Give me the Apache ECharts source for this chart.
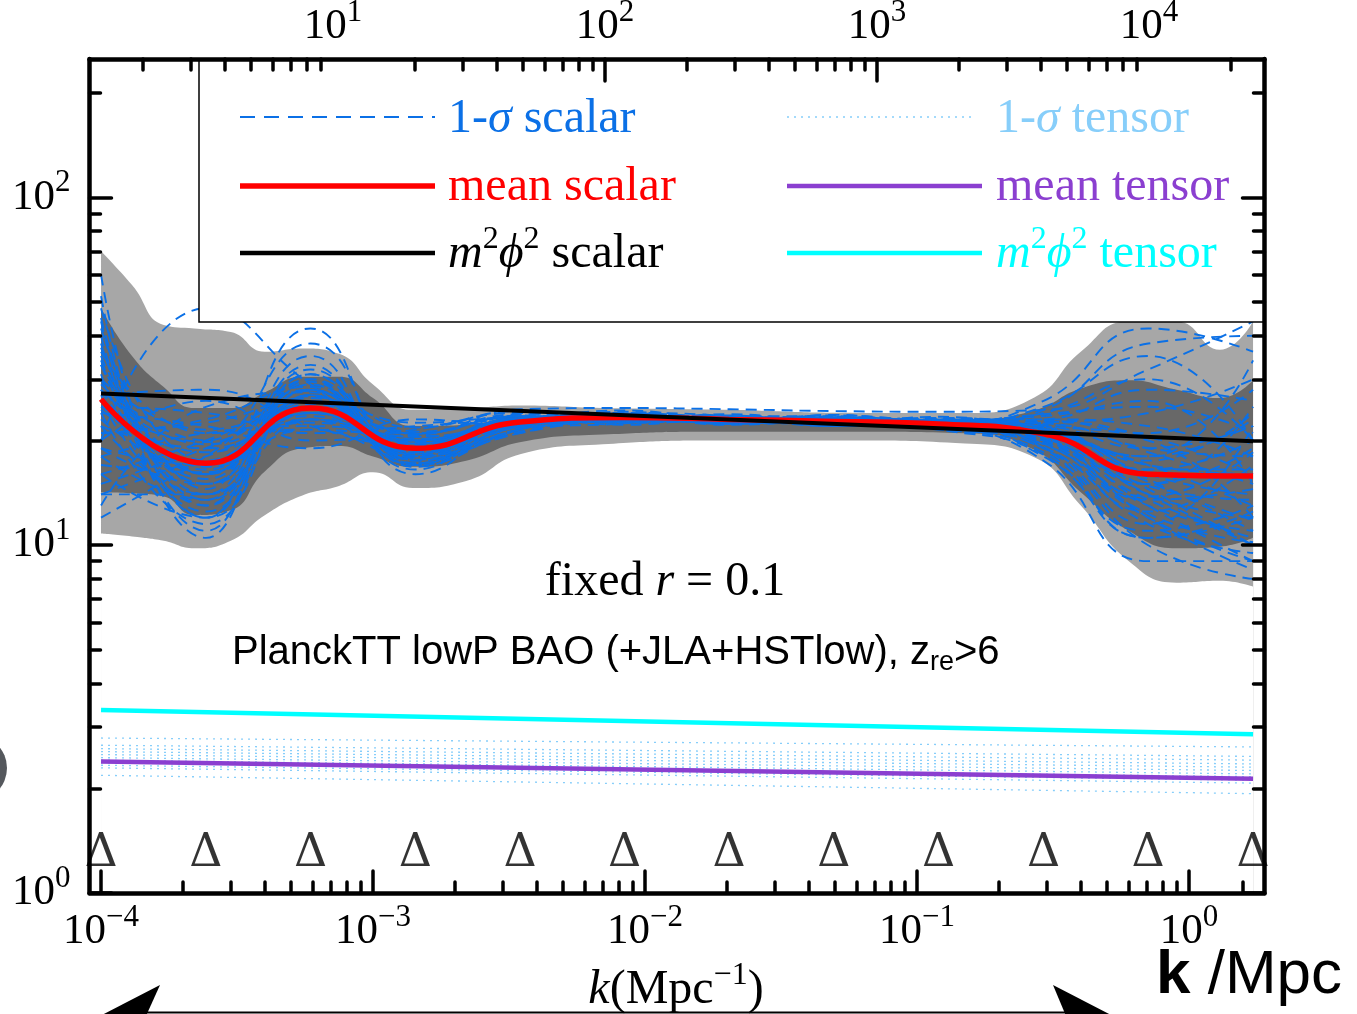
<!DOCTYPE html>
<html>
<head>
<meta charset="utf-8">
<script src="https://cdn.jsdelivr.net/npm/echarts@6/dist/echarts.min.js"></script>
<style>
html, body { margin: 0; padding: 0; background: #fff; }
#mychart { width: 1357px; height: 1014px; }
</style>
</head>
<body>
<div id="mychart"></div>
<script>
// knots of the spline reconstruction (the Delta marks)
var kKnots = [1.0e-4, 2.43e-4, 5.89e-4, 1.43e-3, 3.47e-3, 8.41e-3, 2.04e-2, 4.95e-2, 0.120, 0.292, 0.708, 1.72];
var knotMarkY = 1.29;

// mean scalar spectrum at the knots
var meanScalar = [26.3, 17.2, 24.8, 19.0, 22.6, 23.3, 23.0, 22.7, 22.3, 20.9, 16.0, 15.8];

// 1-sigma scalar samples, values at the knots
var scalarSamples = [
    [30, 15, 27, 18, 22, 23.5, 23, 22.5, 22, 21, 14, 12],
    [22, 19, 23, 20, 23, 23, 22.5, 23, 22.5, 22, 19, 22],
    [45, 13, 29, 17, 21.5, 24, 23.5, 22, 22, 19, 12, 9],
    [18, 21, 22, 21, 23.5, 22.5, 23, 23, 23, 23, 22, 18],
    [35, 16, 26, 19.5, 22, 23.8, 22.8, 22.8, 21.5, 20, 15, 25],
    [14, 14, 31, 17.5, 21, 23, 23.5, 22, 22.8, 18, 11, 13],
    [60, 12, 25, 20, 22.8, 22.6, 23.2, 23.4, 22, 24, 30, 20],
    [25, 24, 21, 22, 23, 23.6, 22.4, 22.6, 23.2, 21.5, 17, 16],
    [12, 18, 28, 16.5, 23.5, 22.8, 23, 22.3, 22.6, 19.5, 13, 11],
    [40, 11, 33, 18, 21, 24.2, 22.6, 23, 21.8, 22.5, 24, 30],
    [20, 26, 20, 21.5, 24, 22.5, 23.4, 22.2, 22.4, 20.5, 14.5, 10],
    [28, 16, 24, 19, 22.2, 23.2, 22.9, 23.6, 22.9, 23.5, 26, 15],
    [16, 20, 26, 18.5, 22.5, 23.5, 22.2, 22.8, 21.6, 18.5, 10, 8],
    [52, 10.5, 30, 17, 23, 22.8, 23.6, 22.4, 23.4, 21, 18, 34],
    [24, 22, 19, 23, 22, 23, 23, 23.2, 22.2, 25, 35, 20],
    [33, 14, 35, 16, 22.6, 24, 22.4, 22.9, 22.5, 20, 12.5, 17],
    [19, 17, 23, 20.5, 21.8, 22.4, 23.8, 22.6, 22.8, 22, 20, 12],
    [27, 28, 22, 19.5, 23.2, 23.6, 22.7, 23.1, 21.9, 19, 11.5, 22],
    [38, 13.5, 27, 17.8, 22.4, 22.9, 23.1, 22.1, 22.7, 23, 28, 26],
    [15, 19, 25, 21, 23.8, 23.3, 22.5, 23.3, 22.1, 17.5, 9, 9],
    [31, 12.5, 23, 18.5, 21.2, 23.9, 23.3, 22.7, 23.1, 21.8, 16, 14],
    [21, 23, 28.5, 20, 22.9, 22.7, 22.8, 22.5, 22.6, 20.8, 15, 19],
    [26, 15.5, 32, 16.8, 22.1, 23.4, 23.5, 23.5, 21.7, 24.5, 38, 40],
    [48, 17.5, 24, 19.2, 23.6, 22.6, 22.6, 22.3, 22.9, 19.8, 13.5, 10.5],
    [20, 48, 29, 19, 22.5, 23.2, 23, 22.8, 22.5, 21, 17, 13],
    [29, 20, 38, 17.2, 21.6, 23.7, 22.3, 23.7, 22.3, 22.8, 21, 28],
    [23, 16.5, 26.5, 22.5, 23.3, 22.2, 23.3, 22.4, 23, 20.2, 12, 8.5],
    [36, 21, 21.5, 18, 22, 24.4, 22.9, 22.9, 22.4, 26, 42, 36],
    [13, 25, 27.5, 21.8, 24.3, 23.1, 22.6, 23, 21.5, 18.2, 10.5, 12],
    [42, 14.5, 42, 17.5, 21.5, 23.3, 23.2, 22.6, 23.2, 21.5, 18, 23],
    [24.5, 18.5, 24.5, 19.8, 22.7, 23, 23.1, 23.1, 22.7, 21.2, 16.5, 16.5],
    [34, 15, 26, 20.8, 24.6, 24.8, 24.6, 24.3, 24.2, 24.5, 32, 44],
    [26, 13, 28, 18.2, 22.8, 23.1, 22.9, 22.6, 22.4, 21.4, 15.5, 11],
    [19, 15, 24, 20.2, 22.3, 22.9, 23.2, 22.9, 22.6, 20.6, 13.5, 14.5],
    [33, 17, 30, 17.6, 22, 23.5, 22.7, 23.2, 22.2, 22.2, 19, 18],
    [16, 12, 27, 19.6, 23.1, 22.8, 23.1, 22.4, 22.8, 19.2, 11.5, 9.5],
    [28, 19.5, 23.5, 18.8, 21.9, 23.4, 22.6, 22.9, 22.5, 23.8, 25, 21],
    [22, 14, 25.5, 21.2, 23.4, 23.1, 23.2, 22.7, 22.9, 20.4, 14, 10],
    [37, 16, 28, 17.2, 22.3, 22.7, 23.1, 23.2, 22.3, 21.6, 17.5, 24],
    [14, 18, 22.5, 20.5, 22.6, 23.3, 22.8, 22.6, 22.7, 19, 10.5, 12.5],
    [24, 11.5, 29.5, 18.3, 22.9, 23.6, 22.9, 22.8, 22.1, 22.6, 20.5, 16],
    [30, 21.5, 25, 19.6, 22.4, 22.9, 23.0, 23.0, 22.6, 20.1, 13, 9],
    [18, 13.5, 31, 18.9, 23.2, 23.2, 22.5, 22.9, 22.9, 21.9, 16.5, 20],
    [27, 16.8, 21.5, 20.6, 21.7, 23.0, 23.3, 22.5, 22.3, 20.7, 14.8, 13.5],
    [21, 22.5, 26, 18.1, 22.7, 23.3, 22.8, 23.1, 22.4, 19.6, 12.3, 10.2],
    [44, 12, 24.5, 19.3, 22.2, 22.8, 23.1, 22.8, 22.8, 22.4, 18.5, 15],
    [17, 16.2, 27.8, 20.9, 23.5, 23.4, 22.9, 22.7, 22.0, 21.1, 15.2, 11.8],
    [25, 19.8, 26.8, 17.9, 22.6, 23.0, 23.0, 23.3, 22.6, 20.3, 13.8, 18.5]
];

// grey confidence bands
var bandK = [1.0e-4, 1.3e-4, 1.7e-4, 2.2e-4, 3.0e-4, 4.0e-4, 5.5e-4, 7.5e-4, 1.0e-3, 1.4e-3, 2.2e-3,
    3.5e-3, 7e-3, 2e-2, 6e-2, 0.15, 0.27, 0.4, 0.6, 0.9, 1.3, 1.72];
var outerLow = [10.8, 10.6, 10.3, 9.8, 10.3, 12.2, 13.9, 14.8, 16.2, 14.6, 15.3,
    18.3, 19.5, 20.0, 20.0, 19.6, 17.9, 13.0, 9.0, 7.8, 7.9, 7.6];
var outerHigh = [70, 56, 43, 42, 41, 36, 36.8, 35.5, 29, 24.5, 24.7,
    25.2, 24.8, 24.5, 24.0, 24.0, 26.6, 36, 44, 44, 36.5, 44];
var innerLow = [14.2, 14.1, 13.8, 12.2, 12.6, 16.3, 19.0, 19.3, 18.0, 16.8, 17.5,
    19.8, 20.8, 21.2, 21.2, 21.0, 18.8, 14.2, 11.0, 9.8, 9.9, 10.5];
var innerHigh = [48, 35, 28.5, 24.8, 24.8, 27.5, 30.5, 30.5, 26.5, 22.0, 22.2,
    23.5, 23.5, 23.3, 23.1, 23.0, 24.4, 28.2, 29.8, 28.0, 26.5, 29.8];

// power-law lines (two end points, straight on log-log)
var kEnds = [1.0e-4, 1.72];
var m2phi2Scalar = [27.3, 19.9];
var m2phi2Tensor = [3.36, 2.86];
var meanTensor = [2.39, 2.13];
var tensorSampleStart = [2.79, 2.66, 2.60, 2.55, 2.50, 2.45, 2.41, 2.37, 2.33, 2.29, 2.18];
var tensorSampleEnd = [2.63, 2.47, 2.41, 2.35, 2.30, 2.25, 2.20, 2.16, 2.11, 2.07, 1.93];

// axes
var kMin = 9.07e-5, kMax = 1.895;
var ellMin = 1.274, ellMax = 26580;
var yMin = 1, yMax = 250;
var kMajorTicks = [1e-4, 1e-3, 1e-2, 1e-1, 1];
var kMinorTicks = [2e-4, 3e-4, 4e-4, 5e-4, 6e-4, 7e-4, 8e-4, 9e-4,
    2e-3, 3e-3, 4e-3, 5e-3, 6e-3, 7e-3, 8e-3, 9e-3,
    2e-2, 3e-2, 4e-2, 5e-2, 6e-2, 7e-2, 8e-2, 9e-2,
    0.2, 0.3, 0.4, 0.5, 0.6, 0.7, 0.8, 0.9, 1.58];
var ellLabels = [10, 100, 1000, 10000];
var ellMajorTicks = [100, 1000];
var ellMinorTicks = [2, 3, 4, 5, 6, 7, 8, 9, 20, 30, 40, 50, 60, 70, 80, 90,
    200, 300, 400, 500, 600, 700, 800, 900, 2000, 3000, 4000, 5000, 6000, 7000, 8000, 9000, 20000];
var yMajorTicks = [1, 10, 100];
var yMinorTicks = [2, 3, 4, 5, 6, 7, 8, 9, 20, 30, 40, 50, 60, 70, 80, 90, 200];

var serif = '"Liberation Serif", "Times New Roman", serif';
var sans = '"Liberation Sans", Arial, sans-serif';
var blue = '#0b70e6';
var purple = '#8b3fd0';
var skyblue = '#87cefa';

function pairs(xs, ys) {
    return xs.map(function (x, i) { return [x, ys[i]]; });
}

function powLabel(v) {
    var e = Math.round(Math.log(v) / Math.LN10);
    return '{b|10}{s|' + (e < 0 ? '\u2212' + (-e) : e) + '}';
}

var powRich = {
    b: {fontFamily: serif, fontSize: 43, lineHeight: 60, color: '#000'},
    s: {fontFamily: serif, fontSize: 31, lineHeight: 26, verticalAlign: 'top', color: '#000'}
};

var textRich = {
    n: {fontFamily: serif, fontSize: 48, lineHeight: 60},
    i: {fontFamily: serif, fontSize: 48, lineHeight: 60, fontStyle: 'italic'},
    s: {fontFamily: serif, fontSize: 32, lineHeight: 30, verticalAlign: 'top'}
};

function minorAxis(position, min, max, ticks) {
    return {
        type: 'log', logBase: 10, position: position, min: min, max: max, z: 20,
        axisLine: {show: true, onZero: false, lineStyle: {color: '#000', width: 4.5}},
        axisTick: {show: true, inside: true, length: 11, customValues: ticks,
            lineStyle: {color: '#000', width: 3.5, cap: 'round'}},
        axisLabel: {show: false},
        splitLine: {show: false}
    };
}

function majorAxis(position, min, max, ticks, labels, margin) {
    return {
        type: 'log', logBase: 10, position: position, min: min, max: max, z: 20,
        axisLine: {show: false, onZero: false},
        axisTick: {show: true, inside: true, length: 22, customValues: ticks,
            lineStyle: {color: '#000', width: 3.5, cap: 'round'}},
        axisLabel: labels ? {show: true, customValues: labels, formatter: powLabel, rich: powRich, margin: margin} : {show: false},
        splitLine: {show: false}
    };
}

// a band edge filled down to the bottom of the plot; later edges paint over earlier ones
function bandLayer(values, color) {
    return {type: 'line', data: pairs(bandK, values), smooth: true, symbol: 'none', silent: true, z: 1,
        lineStyle: {width: 0, opacity: 0}, areaStyle: {color: color, opacity: 1, origin: 'start'}};
}

var series = [
    bandLayer(outerHigh, '#a7a7a7'),
    bandLayer(innerHigh, '#686868'),
    bandLayer(innerLow, '#a7a7a7'),
    bandLayer(outerLow, '#ffffff')
];

scalarSamples.forEach(function (s) {
    series.push({type: 'line', data: pairs(kKnots, s), smooth: true, symbol: 'none', silent: true, z: 3,
        lineStyle: {color: blue, width: 1.9, type: [11, 7]}});
});

tensorSampleStart.forEach(function (v, i) {
    series.push({type: 'line', data: pairs(kEnds, [v, tensorSampleEnd[i]]), symbol: 'none', silent: true, z: 3,
        lineStyle: {color: skyblue, width: 1.3, type: [2, 5]}});
});

series.push({type: 'line', data: pairs(kEnds, meanTensor), symbol: 'none', silent: true, z: 4,
    lineStyle: {color: purple, width: 4.5}});
series.push({type: 'line', data: pairs(kEnds, m2phi2Tensor), symbol: 'none', silent: true, z: 4,
    lineStyle: {color: '#00ffff', width: 4.5}});
series.push({type: 'line', data: pairs(kKnots, meanScalar), smooth: true, symbol: 'none', silent: true, z: 5,
    lineStyle: {color: '#ff0000', width: 5.5}});
series.push({type: 'line', data: pairs(kEnds, m2phi2Scalar), symbol: 'none', silent: true, z: 6,
    lineStyle: {color: '#000', width: 4}});

series.push({type: 'scatter', data: pairs(kKnots, kKnots.map(function () { return knotMarkY; })),
    symbolSize: 2, itemStyle: {color: 'rgba(0,0,0,0)'}, silent: true, z: 6, clip: false,
    label: {show: true, position: 'inside', formatter: '\u0394', fontFamily: '"DejaVu Serif", serif',
        fontSize: 46, color: '#000'}});

var legendLines = [
    {x1: 240, x2: 435, y: 117, color: blue, width: 1.8, dash: [15, 9]},
    {x1: 240, x2: 435, y: 186, color: '#ff0000', width: 5.5, dash: null},
    {x1: 240, x2: 435, y: 253, color: '#000', width: 4.5, dash: null},
    {x1: 787, x2: 975, y: 117, color: skyblue, width: 1.5, dash: [2, 5]},
    {x1: 787, x2: 982, y: 186, color: purple, width: 4.5, dash: null},
    {x1: 787, x2: 982, y: 253, color: '#00ffff', width: 4.5, dash: null}
];
var legendTexts = [
    {x: 448, y: 119, color: blue, text: '{n|1-}{i|\u03c3}{n| scalar}'},
    {x: 448, y: 187, color: '#ff0000', text: '{n|mean scalar}'},
    {x: 448, y: 254, color: '#000', text: '{i|m}{s|2}{i|\u03d5}{s|2}{n| scalar}'},
    {x: 996, y: 119, color: skyblue, text: '{n|1-}{i|\u03c3}{n| tensor}'},
    {x: 996, y: 187, color: purple, text: '{n|mean tensor}'},
    {x: 996, y: 254, color: '#00ffff', text: '{i|m}{s|2}{i|\u03d5}{s|2}{n| tensor}'}
];

var graphics = [
    {type: 'rect', z: 10, shape: {x: 199, y: 59, width: 1066, height: 263},
        style: {fill: '#fff', stroke: '#000', lineWidth: 1.5}}
];
legendLines.forEach(function (l) {
    graphics.push({type: 'line', z: 11, shape: {x1: l.x1, y1: l.y, x2: l.x2, y2: l.y},
        style: {stroke: l.color, lineWidth: l.width, lineDash: l.dash}});
});
legendTexts.forEach(function (t) {
    graphics.push({type: 'text', z: 11, x: t.x, y: t.y,
        style: {text: t.text, rich: textRich, fill: t.color, align: 'left', verticalAlign: 'middle',
            font: '48px ' + serif}});
});
graphics.push({type: 'text', z: 11, x: 665, y: 582,
    style: {text: '{n|fixed }{i|r}{n| = 0.1}', rich: textRich, fill: '#000', align: 'center', verticalAlign: 'middle'}});
graphics.push({type: 'text', z: 11, x: 232, y: 653,
    style: {text: '{n|PlanckTT lowP BAO (+JLA+HSTlow), z}{sub|re}{n|>6}', fill: '#000', align: 'left', verticalAlign: 'middle',
        rich: {n: {fontFamily: sans, fontSize: 40, lineHeight: 46},
            sub: {fontFamily: sans, fontSize: 27, lineHeight: 24, verticalAlign: 'bottom'}}}});
graphics.push({type: 'text', z: 11, x: 676, y: 990,
    style: {text: '{i|k}{n|(Mpc}{s|\u22121}{n|)}', rich: textRich, fill: '#000', align: 'center', verticalAlign: 'middle'}});
graphics.push({type: 'text', z: 11, x: 1156, y: 976,
    style: {text: '{b|k}{n| /Mpc}', fill: '#000', align: 'left', verticalAlign: 'middle',
        rich: {b: {fontFamily: sans, fontSize: 62, fontWeight: 'bold'}, n: {fontFamily: sans, fontSize: 62}}}});
// range arrow below the axis
graphics.push({type: 'line', z: 11, shape: {x1: 146, y1: 1012.5, x2: 1066, y2: 1012.5},
    style: {stroke: '#000', lineWidth: 2}});
graphics.push({type: 'polygon', z: 11, shape: {points: [[160, 985], [100, 1016], [146, 1016]]}, style: {fill: '#000'}});
graphics.push({type: 'polygon', z: 11, shape: {points: [[1053, 985], [1113, 1016], [1066, 1016]]}, style: {fill: '#000'}});
// edge of the neighbouring panel
graphics.push({type: 'circle', z: 11, shape: {cx: -26, cy: 768, r: 33}, style: {fill: '#55585d'}});

var option = {
    animation: false,
    backgroundColor: '#fff',
    grid: {left: 89.5, right: 92.5, top: 59, bottom: 121, containLabel: false, outerBoundsMode: 'none'},
    xAxis: [
        minorAxis('bottom', kMin, kMax, kMinorTicks),
        majorAxis('bottom', kMin, kMax, kMajorTicks, kMajorTicks, 9),
        minorAxis('top', ellMin, ellMax, ellMinorTicks),
        majorAxis('top', ellMin, ellMax, ellMajorTicks, ellLabels, 2)
    ],
    yAxis: [
        minorAxis('left', yMin, yMax, yMinorTicks),
        majorAxis('left', yMin, yMax, yMajorTicks, yMajorTicks, 19),
        minorAxis('right', yMin, yMax, yMinorTicks),
        majorAxis('right', yMin, yMax, yMajorTicks, null, 0)
    ],
    graphic: graphics,
    series: series
};

var mychart = echarts.init(document.getElementById('mychart'));
mychart.setOption(option);
</script>
</body>
</html>
